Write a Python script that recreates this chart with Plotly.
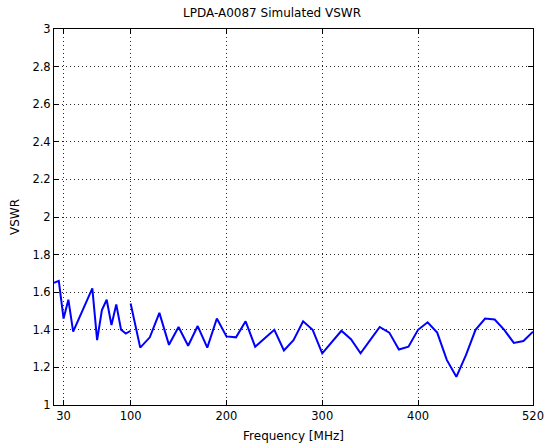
import plotly.graph_objects as go

# Band 1 (20-100 MHz)
freq_low = [20, 25, 30, 35, 40, 45, 60, 65, 70, 75, 80, 85, 90, 95, 100]
vswr_low = [1.65, 1.66, 1.46, 1.56, 1.39, 1.45, 1.62, 1.345, 1.505, 1.56, 1.425, 1.535, 1.40, 1.38, 1.395]

# Band 2 (100-520 MHz)
freq_high = [100, 110, 120, 130, 140, 150, 160, 170, 180, 190, 200, 210, 220, 230, 240,
             250, 260, 270, 280, 290, 300, 310, 320, 330, 340, 350, 360, 370, 380, 390,
             400, 410, 420, 430, 440, 450, 460, 470, 480, 490, 500, 510, 520]
vswr_high = [1.54, 1.305, 1.36, 1.49, 1.32, 1.415, 1.315, 1.42, 1.305, 1.46, 1.365, 1.36, 1.445, 1.31, 1.355,
             1.40, 1.29, 1.345, 1.445, 1.40, 1.275, 1.335, 1.395, 1.35, 1.275, 1.345, 1.415, 1.385, 1.295, 1.31,
             1.40, 1.44, 1.385, 1.24, 1.15, 1.265, 1.40, 1.46, 1.455, 1.40, 1.33, 1.34, 1.39]

x_ticks = [30, 100, 200, 300, 400, 520]
y_ticks = [1, 1.2, 1.4, 1.6, 1.8, 2, 2.2, 2.4, 2.6, 2.8, 3]
y_labels = ["1", "1.2", "1.4", "1.6", "1.8", "2", "2.2", "2.4", "2.6", "2.8", "3"]

fig = go.Figure()
for fx, fy in [(freq_low, vswr_low), (freq_high, vswr_high)]:
    fig.add_trace(go.Scatter(x=fx, y=fy, mode="lines",
                             line=dict(color="#0000FF", width=2), showlegend=False,
                             hoverinfo="skip"))

font = dict(family="DejaVu Sans, Liberation Sans, sans-serif", size=12, color="black")
tick_font = dict(family="DejaVu Sans, Liberation Sans, sans-serif", size=11.5, color="black")
axis_common = dict(showline=True, linecolor="black", linewidth=1, mirror="ticks",
                   ticks="inside", ticklen=5, tickcolor="black",
                   showgrid=True, gridcolor="rgba(0,0,0,0.85)", griddash="1px,3px", gridwidth=1,
                   zeroline=False, tickfont=tick_font, automargin=False,
                   ticklabeloverflow="allow")

fig.update_layout(
    width=544, height=448,
    margin=dict(l=54, r=11, t=29, b=43),
    paper_bgcolor="white", plot_bgcolor="white",
    font=font,
    title=dict(text="LPDA-A0087 Simulated VSWR", x=0.5, xanchor="center",
               y=1 - 13 / 448, yanchor="middle", font=font),
    xaxis=dict(range=[20, 520], tickmode="array", tickvals=x_ticks,
               ticktext=[str(v) for v in x_ticks],
               title=dict(text="Frequency [MHz]", font=font, standoff=9), **axis_common),
    yaxis=dict(range=[1, 3], tickmode="array", tickvals=y_ticks, ticktext=y_labels,
               title=dict(text="VSWR", font=font, standoff=10), **axis_common),
)

fig.write_html("out.html",
               config={"displayModeBar": False},
               post_script="document.body.style.margin='0';document.body.style.padding='0';")
